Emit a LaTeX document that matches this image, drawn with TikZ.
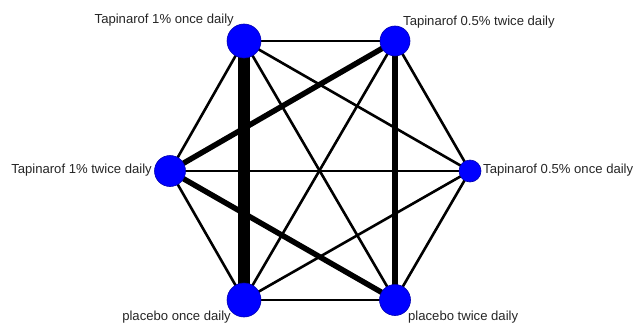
\documentclass[tikz,border=0pt]{standalone}
\usepackage{fontspec}
\setmainfont{Liberation Sans}
\begin{document}
\begin{tikzpicture}[x=1pt,y=-1pt,
  trt/.style={circle,fill=blue,draw=blue!70!black,line width=0.6pt,inner sep=0pt},
  lbl/.style={font=\fontsize{13.1}{15}\selectfont,text=black!85,inner sep=0pt},
  edge/.style={line width=2.6pt,black},
  thk/.style={line width=5.5pt,black},
  vthk/.style={line width=11.5pt,black}]
\useasboundingbox (0,0) rectangle (634,324);
\fill[white] (0,0) rectangle (634,324);
\coordinate (A) at (244,41);
\coordinate (B) at (395,41);
\coordinate (C) at (170,171);
\coordinate (D) at (470,171);
\coordinate (E) at (244,300);
\coordinate (F) at (395,300);
% edges
\draw[edge] (A) -- (B);
\draw[edge] (A) -- (C);
\draw[edge] (A) -- (D);
\draw[edge] (A) -- (F);
\draw[edge] (B) -- (D);
\draw[edge] (B) -- (E);
\draw[edge] (C) -- (D);
\draw[edge] (C) -- (E);
\draw[edge] (D) -- (E);
\draw[edge] (D) -- (F);
\draw[edge] (E) -- (F);
\draw[thk] (B) -- (C);
\draw[thk] (C) -- (F);
\draw[line width=6pt] (B) -- (F);
\draw[vthk] (A) -- (E);
% nodes
\node[trt,minimum size=34pt] (nA) at (A) {};
\node[trt,minimum size=30pt] (nB) at (B) {};
\node[trt,minimum size=31pt] (nC) at (C) {};
\node[trt,minimum size=22pt] (nD) at (D) {};
\node[trt,minimum size=34pt] (nE) at (E) {};
\node[trt,minimum size=31pt] (nF) at (F) {};
% labels
\node[lbl,anchor=east] (lA) at (234,20) {Tapinarof 1\% once daily};
\node[lbl,anchor=west] (lB) at (403,22) {Tapinarof 0.5\% twice daily};
\node[lbl,anchor=east] (lC) at (152,170) {Tapinarof 1\% twice daily};
\node[lbl,anchor=west] (lD) at (483,170) {Tapinarof 0.5\% once daily};
\node[lbl,anchor=east] (lE) at (231,317) {placebo once daily};
\node[lbl,anchor=west] (lF) at (408,317) {placebo twice daily};
\end{tikzpicture}
\end{document}
